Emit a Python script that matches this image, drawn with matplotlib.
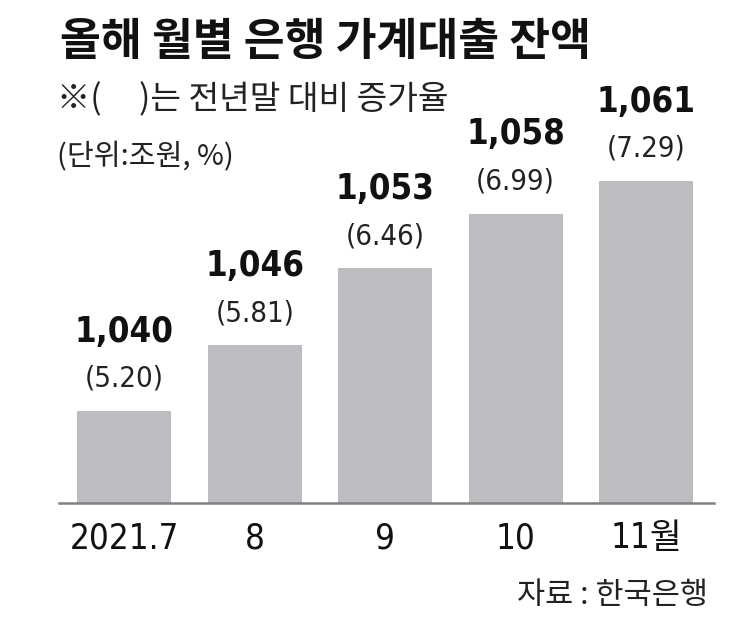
import matplotlib.pyplot as plt
import numpy as np

months = ['2021.7', '8', '9', '10', '11월']
balance = [1040, 1046, 1053, 1058, 1061]
growth = [5.20, 5.81, 6.46, 6.99, 7.29]

NUM_FONT = ['DejaVu Sans', 'Noto Sans CJK KR']
KR_FONT = ['Noto Sans CJK KR', 'DejaVu Sans']

W, H = 743, 619


def main():
    fig = plt.figure(figsize=(W / 100, H / 100), dpi=100)
    ax = fig.add_axes([59 / W, 1 - 503 / H, 655 / W, 353 / H])

    x = np.arange(len(months))
    ax.bar(x, balance, width=0.72, color='#bcbdc0', zorder=2)
    ax.set_xlim(-0.5, 4.52)
    ax.set_ylim(1031.6, 1063.8)

    for xi, v, g in zip(x, balance, growth):
        ax.annotate(f'{v:,}', (xi, v), xytext=(0, 57), textcoords='offset points',
                    ha='center', va='center', fontsize=25, fontweight='bold',
                    fontstretch='condensed', family=NUM_FONT, color='#111111')
        ax.annotate(f'({g:.2f})', (xi, v), xytext=(0, 23), textcoords='offset points',
                    ha='center', va='center', fontsize=21, fontstretch='condensed',
                    family=NUM_FONT, color='#222222')

    for s in ['top', 'right', 'left']:
        ax.spines[s].set_visible(False)
    ax.spines['bottom'].set_color('#808080')
    ax.spines['bottom'].set_linewidth(1.8)
    ax.set_yticks([])
    ax.set_xticks(x)
    ax.set_xticklabels(months, fontsize=25, family=NUM_FONT, fontstretch='condensed',
                       color='#111111')
    ax.tick_params(axis='x', length=0, pad=13)

    fig.text(60 / W, 1 - 42 / H, '올해 월별 은행 가계대출 잔액', fontsize=32,
             fontweight='heavy', family=KR_FONT, va='center', color='#111111')
    fig.text(57 / W, 1 - 100 / H, '※(     )는 전년말 대비 증가율', fontsize=24,
             family=KR_FONT, va='center', color='#222222')
    fig.text(57 / W, 1 - 157 / H, '(단위:조원, %)', fontsize=21,
             family=KR_FONT, va='center', color='#222222')
    fig.text(708 / W, 1 - 595 / H, '자료 : 한국은행', fontsize=22,
             family=KR_FONT, va='center', ha='right', color='#222222')

    fig.savefig('out.png', dpi=100)


if __name__ == '__main__':
    main()
